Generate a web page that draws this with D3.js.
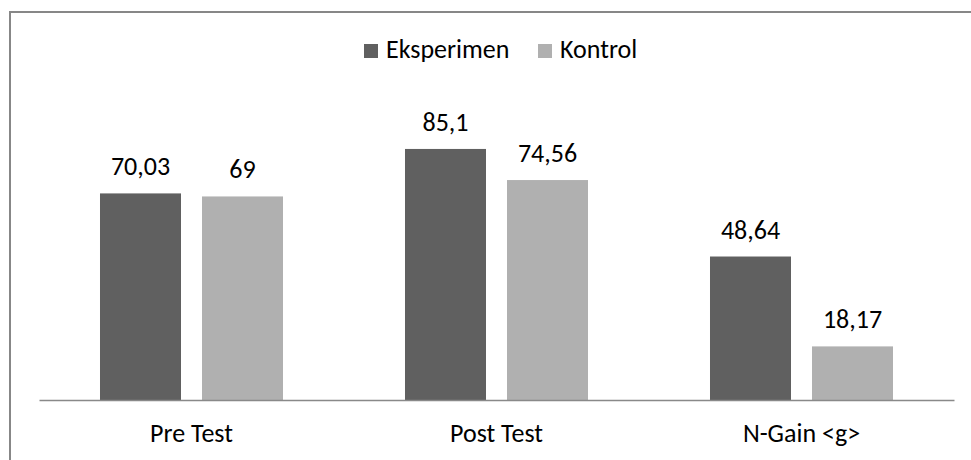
<!DOCTYPE html>
<html>
<head>
<meta charset="utf-8">
<script src="https://cdn.jsdelivr.net/npm/d3@7"></script>
<style>
  html, body { margin: 0; padding: 0; background: #fff; }
  svg { display: block; }
  text { font-family: "Carlito", "Lato", "Open Sans", sans-serif; fill: #000; }
</style>
</head>
<body>
<svg id="chart" width="971" height="460"></svg>
<script>
// Group labels along the x axis
const categories = ["Pre Test", "Post Test", "N-Gain <g>"];
// Series names and colours shown in the legend
const seriesNames = ["Eksperimen", "Kontrol"];
const seriesColors = ["#606060", "#b0b0b0"];
// Values per series, one per category
const eksperimen = [70.03, 85.1, 48.64];
const kontrol = [69, 74.56, 18.17];
// Value labels as printed (comma decimal separator)
const eksperimenLabels = ["70,03", "85,1", "48,64"];
const kontrolLabels = ["69", "74,56", "18,17"];

const seriesValues = [eksperimen, kontrol];
const seriesLabels = [eksperimenLabels, kontrolLabels];

const svg = d3.select("#chart");
const W = 971, H = 460;
const plot = { left: 39, right: 954, baseline: 400, top: 105 };
const FONT = 26;

// Outer frame: top and left edges
svg.append("path")
  .attr("d", `M10,${H} L10,12 L${W},12`)
  .attr("fill", "none")
  .attr("stroke", "#878787")
  .attr("stroke-width", 2);

const x = d3.scaleBand()
  .domain(categories)
  .range([plot.left, plot.right])
  .padding(0);

const xs = d3.scaleBand()
  .domain(seriesNames)
  .range([0, x.bandwidth()])
  .paddingInner(21 / 102)
  .paddingOuter(0.598);

const y = d3.scaleLinear()
  .domain([0, 100])
  .range([plot.baseline, plot.top]);

const rows = [];
seriesNames.forEach((s, si) => {
  categories.forEach((c, ci) => {
    rows.push({ series: s, si, cat: c, value: seriesValues[si][ci], label: seriesLabels[si][ci] });
  });
});

// Bars
svg.append("g").selectAll("rect")
  .data(rows)
  .join("rect")
  .attr("x", d => x(d.cat) + xs(d.series))
  .attr("y", d => y(d.value))
  .attr("width", xs.bandwidth())
  .attr("height", d => y(0) - y(d.value))
  .attr("fill", d => seriesColors[d.si]);

// Value labels above bars
svg.append("g").selectAll("text")
  .data(rows)
  .join("text")
  .attr("x", d => x(d.cat) + xs(d.series) + xs.bandwidth() / 2)
  .attr("y", d => y(d.value) - 18)
  .attr("text-anchor", "middle")
  .attr("font-size", FONT)
  .text(d => d.label);

// Category axis along the baseline
const xAxis = svg.append("g")
  .attr("transform", `translate(0,${plot.baseline})`)
  .call(d3.axisBottom(x).tickSize(0).tickPadding(0));
xAxis.attr("font-family", null).attr("font-size", null);
xAxis.select(".domain")
  .attr("stroke", "#898989")
  .attr("stroke-width", 1.5);
xAxis.selectAll(".tick text")
  .attr("dy", 0)
  .attr("y", 42)
  .attr("font-size", FONT)
  .attr("fill", "#000");

// Legend
const legendItems = [
  { name: seriesNames[0], color: seriesColors[0], x: 364 },
  { name: seriesNames[1], color: seriesColors[1], x: 538 }
];
const legend = svg.append("g");
legendItems.forEach(item => {
  legend.append("rect")
    .attr("x", item.x).attr("y", 44)
    .attr("width", 14).attr("height", 14)
    .attr("fill", item.color);
  legend.append("text")
    .attr("x", item.x + 22).attr("y", 58)
    .attr("font-size", FONT)
    .text(item.name);
});
</script>
</body>
</html>
